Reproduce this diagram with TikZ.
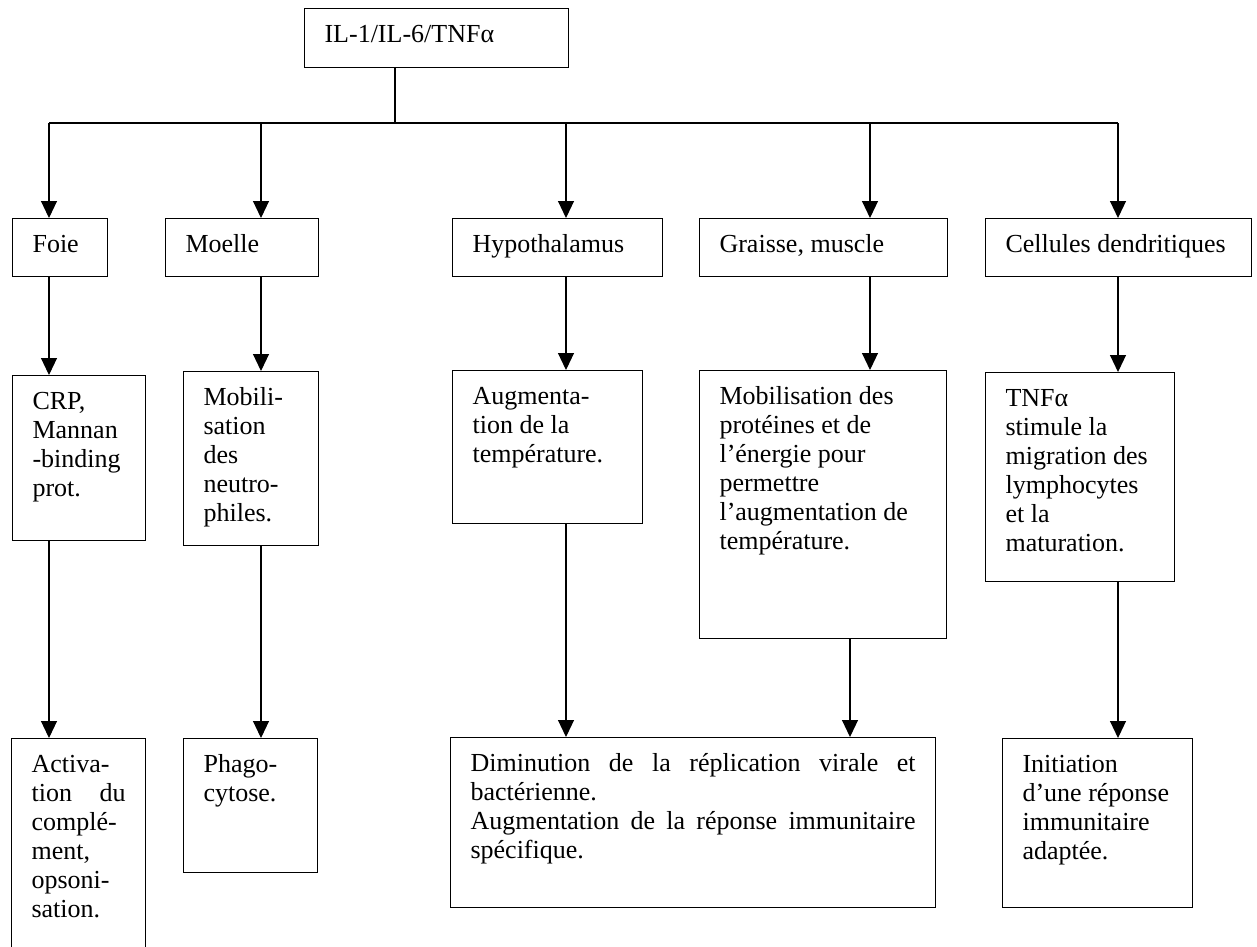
\documentclass[tikz,border=0pt]{standalone}
\usepackage{fontspec}
\setmainfont{Liberation Serif}
\usetikzlibrary{arrows.meta}

% text of a box: width, height, lines
\newcommand{\celltxt}[3]{\parbox[t][#2][t]{#1}{\raggedright\strut #3}}

\begin{document}
\begin{tikzpicture}[x=1pt, y=-1pt,
    every node/.style={draw, line width=1.1pt, rectangle, anchor=north west,
        inner xsep=20pt, inner ysep=14pt, font=\fontsize{26}{29}\selectfont},
    link/.style={line width=1.1pt},
    arr/.style={link, -{Triangle[length=17pt,width=16pt]}}
]
\useasboundingbox (0,0) rectangle (1257,946);
\clip (0,0) rectangle (1257,946);

\node (cyto) at (304,8) {\celltxt{224pt}{31pt}{IL-1/IL-6/TNFα}};

% organes
\node (foie) at (12,218) {\celltxt{55pt}{30pt}{Foie}};
\node (moelle) at (165,218) {\celltxt{113pt}{30pt}{Moelle}};
\node (hypo) at (452,218) {\celltxt{170pt}{30pt}{Hypothalamus}};
\node (graisse) at (699,218) {\celltxt{208pt}{30pt}{Graisse, muscle}};
\node (dendri) at (985,218) {\celltxt{226pt}{30pt}{Cellules dendritiques}};

% effets
\node (crp) at (12,375) {\celltxt{93pt}{137pt}{CRP,\\ Mannan\\ -binding\\ prot.}};
\node (mobneu) at (183,371) {\celltxt{95pt}{146pt}{Mobili-\\ sation\\ des\\ neutro-\\ philes.}};
\node (temp) at (452,370) {\celltxt{150pt}{125pt}{Augmenta-\\ tion de la\\ température.}};
\node (energ) at (699,370) {\celltxt{207pt}{240pt}{Mobilisation des\\ protéines et de\\ l’énergie pour\\ permettre\\ l’augmentation de\\ température.}};
\node (migr) at (985,372) {\celltxt{149pt}{181pt}{TNFα\\ stimule la\\ migration des\\ lymphocytes\\ et la\\ maturation.}};

% consequences
\node (compl) at (11,738) {\celltxt{94pt}{194pt}{Activa-\\ tion\hfill du\\ complé-\\ ment,\\ opsoni-\\ sation.}};
\node (phago) at (183,738) {\celltxt{94pt}{106pt}{Phago-\\ cytose.}};
\node (repli) at (450,737) {\celltxt{445pt}{142pt}{Diminution\hfill de\hfill la\hfill réplication\hfill virale\hfill et\\ bactérienne.\\ Augmentation\hfill de\hfill la\hfill réponse\hfill immunitaire\\ spécifique.}};
\node (adapt) at (1002,738) {\celltxt{150pt}{141pt}{Initiation\\ d’une réponse\\ immunitaire\\ adaptée.}};

\coordinate (hub) at (395,123);
\coordinate (c1) at (49,123);
\coordinate (c2) at (261,123);
\coordinate (c3) at (566,123);
\coordinate (c4) at (870,123);
\coordinate (c5) at (1118,123);
\coordinate (d4) at (850,123);

\draw[link] (cyto.south -| hub) -- (hub);
\draw[link] (c1) -- (c5);

\draw[arr] (c1) -- (foie.north -| c1);
\draw[arr] (c2) -- (moelle.north -| c2);
\draw[arr] (c3) -- (hypo.north -| c3);
\draw[arr] (c4) -- (graisse.north -| c4);
\draw[arr] (c5) -- (dendri.north -| c5);

\draw[arr] (foie.south -| c1) -- (crp.north -| c1);
\draw[arr] (moelle.south -| c2) -- (mobneu.north -| c2);
\draw[arr] (hypo.south -| c3) -- (temp.north -| c3);
\draw[arr] (graisse.south -| c4) -- (energ.north -| c4);
\draw[arr] (dendri.south -| c5) -- (migr.north -| c5);

\draw[arr] (crp.south -| c1) -- (compl.north -| c1);
\draw[arr] (mobneu.south -| c2) -- (phago.north -| c2);
\draw[arr] (temp.south -| c3) -- (repli.north -| c3);
\draw[arr] (energ.south -| d4) -- (repli.north -| d4);
\draw[arr] (migr.south -| c5) -- (adapt.north -| c5);
\end{tikzpicture}
\end{document}
